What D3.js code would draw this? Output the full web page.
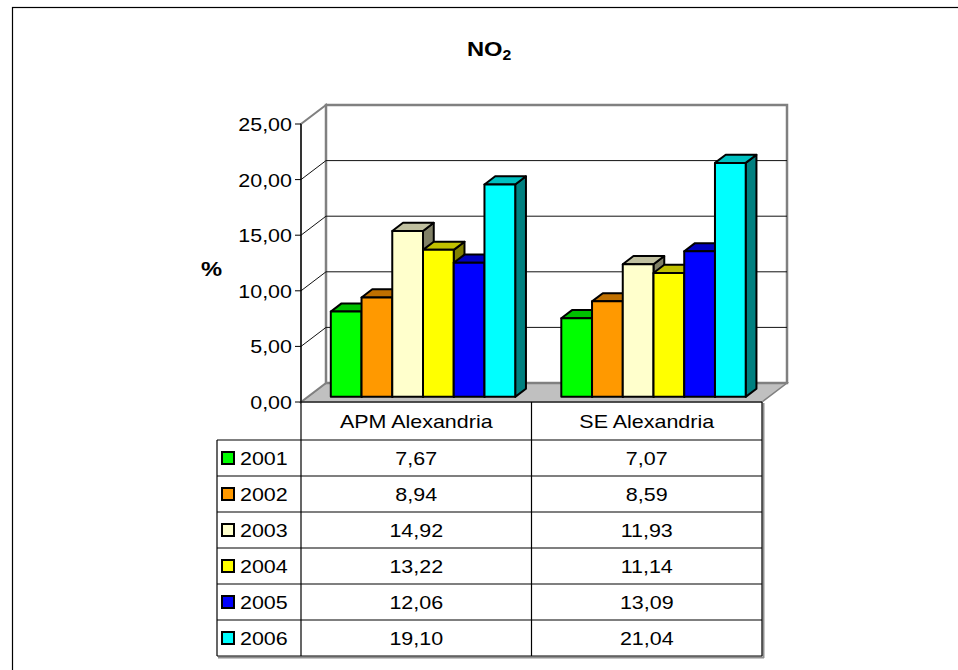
<!DOCTYPE html>
<html>
<head>
<meta charset="utf-8">
<script src="https://cdn.jsdelivr.net/npm/d3@7/dist/d3.min.js"></script>
<style>
  html, body { margin: 0; padding: 0; background: #fff; }
  svg { display: block; }
  text { font-family: Arial, "Liberation Sans", sans-serif; fill: #000; }
</style>
</head>
<body>
<svg id="chart" width="958" height="670"></svg>
<script>
// NO2 share (%) by station and year
const categories = ["APM Alexandria", "SE Alexandria"];
const years = ["2001", "2002", "2003", "2004", "2005", "2006"];
const values2001 = [7.67, 7.07];
const values2002 = [8.94, 8.59];
const values2003 = [14.92, 11.93];
const values2004 = [13.22, 11.14];
const values2005 = [12.06, 13.09];
const values2006 = [19.10, 21.04];
const valueLabels2001 = ["7,67", "7,07"];
const valueLabels2002 = ["8,94", "8,59"];
const valueLabels2003 = ["14,92", "11,93"];
const valueLabels2004 = ["13,22", "11,14"];
const valueLabels2005 = ["12,06", "13,09"];
const valueLabels2006 = ["19,10", "21,04"];
const yTicks = [0, 5, 10, 15, 20, 25];
const yTickLabels = ["0,00", "5,00", "10,00", "15,00", "20,00", "25,00"];

const seriesValues = [values2001, values2002, values2003, values2004, values2005, values2006];
const seriesLabels = [valueLabels2001, valueLabels2002, valueLabels2003, valueLabels2004, valueLabels2005, valueLabels2006];

// face colours: front, top, side
const palette = [
  { front: "#00ff00", top: "#00c000", side: "#008000" },
  { front: "#ff9900", top: "#c07000", side: "#804c00" },
  { front: "#ffffcc", top: "#c0c0a0", side: "#808066" },
  { front: "#ffff00", top: "#c0c000", side: "#808000" },
  { front: "#0000ff", top: "#0000c0", side: "#000080" },
  { front: "#00ffff", top: "#00c0c0", side: "#008080" }
];

const svg = d3.select("#chart");
const FS = 19, SX = 1.13;   // text size and horizontal stretch

function label(g, x, y, str, anchor, opts = {}) {
  const t = g.append("g").attr("transform", `translate(${x},${y}) scale(${opts.sx || SX},1)`)
    .append("text")
    .attr("text-anchor", anchor)
    .attr("font-size", opts.size || FS)
    .attr("font-weight", opts.bold ? "bold" : "normal")
    .text(str);
  return t;
}

// outer frame
svg.append("rect").attr("x", 12.5).attr("y", 7.5).attr("width", 1000).attr("height", 1000)
  .attr("fill", "none").attr("stroke", "#000").attr("stroke-width", 1.2);

// plot geometry (front plane) and depth offsets
const left = 301, right = 762;
const DX = 25, DY = 19;
const y = d3.scaleLinear().domain([0, 25]).range([402, 124]);
const x = d3.scaleBand().domain(categories).range([left, right]).paddingInner(0).paddingOuter(0);
const xs = d3.scaleBand().domain(years).range([0, x.bandwidth()]).paddingInner(0).paddingOuter(0.75);
const d0 = 0.27, d1 = 0.70;

const gWalls = svg.append("g");
const wallStroke = "#808080";

// floor
gWalls.append("polygon")
  .attr("points", [[left, y(0)], [right, y(0)], [right + DX, y(0) - DY], [left + DX, y(0) - DY]].join(" "))
  .attr("fill", "#c0c0c0").attr("stroke", wallStroke).attr("stroke-width", 1.5);
// left wall
gWalls.append("polygon")
  .attr("points", [[left, y(0)], [left, y(25)], [left + DX, y(25) - DY], [left + DX, y(0) - DY]].join(" "))
  .attr("fill", "#fff").attr("stroke", wallStroke).attr("stroke-width", 2);
// back wall
gWalls.append("rect")
  .attr("x", left + DX).attr("y", y(25) - DY)
  .attr("width", right - left).attr("height", y(0) - y(25))
  .attr("fill", "#fff").attr("stroke", wallStroke).attr("stroke-width", 2.5);

// gridlines on back and side walls
const grid = yTicks.filter(v => v > 0 && v < 25);
gWalls.selectAll("line.gb").data(grid).join("line")
  .attr("x1", left + DX).attr("x2", right + DX)
  .attr("y1", v => y(v) - DY).attr("y2", v => y(v) - DY)
  .attr("stroke", "#111").attr("stroke-width", 1);
gWalls.selectAll("line.gs").data(grid).join("line")
  .attr("x1", left).attr("x2", left + DX)
  .attr("y1", v => y(v)).attr("y2", v => y(v) - DY)
  .attr("stroke", "#111").attr("stroke-width", 1);

// bars
const gBars = svg.append("g");
categories.forEach((c, ci) => {
  seriesValues.forEach((vals, si) => {
    const v = vals[ci];
    const col = palette[si];
    const fx = x(c) + xs(years[si]) + d0 * DX;
    const w = xs.bandwidth();
    const ty = y(v) - d0 * DY, by = y(0) - d0 * DY;
    const ddx = (d1 - d0) * DX, ddy = (d1 - d0) * DY;
    const g = gBars.append("g").attr("stroke", "#000").attr("stroke-width", 2).attr("stroke-linejoin", "round");
    g.append("polygon").attr("fill", col.side)
      .attr("points", [[fx + w, ty], [fx + w + ddx, ty - ddy], [fx + w + ddx, by - ddy], [fx + w, by]].join(" "));
    g.append("polygon").attr("fill", col.top)
      .attr("points", [[fx, ty], [fx + w, ty], [fx + w + ddx, ty - ddy], [fx + ddx, ty - ddy]].join(" "));
    g.append("rect").attr("fill", col.front)
      .attr("x", fx).attr("y", ty).attr("width", w).attr("height", by - ty);
  });
});

// value axis
const gAxis = svg.append("g");
gAxis.append("line").attr("x1", left).attr("x2", left).attr("y1", y(25)).attr("y2", 656)
  .attr("stroke", "#000").attr("stroke-width", 1.2);
gAxis.selectAll("line.tick").data(yTicks).join("line")
  .attr("x1", left - 6).attr("x2", left)
  .attr("y1", d => y(d)).attr("y2", d => y(d))
  .attr("stroke", "#000").attr("stroke-width", 1);
yTicks.forEach((v, i) => label(gAxis, left - 9, y(v) + 7, yTickLabels[i], "end"));
// floor front edge
gAxis.append("line").attr("x1", left).attr("x2", right).attr("y1", y(0)).attr("y2", y(0))
  .attr("stroke", "#000").attr("stroke-width", 1.2);

// axis title and chart title
label(svg, 211.5, 276, "%", "middle", { bold: true, size: 21 });
const tg = svg.append("g").attr("transform", `translate(467,56) scale(${SX},1)`);
const tt = tg.append("text").attr("font-size", 21).attr("font-weight", "bold");
tt.append("tspan").text("NO");
tt.append("tspan").attr("font-size", 14).attr("dy", 4).text("2");

// data table
const gTable = svg.append("g");
const tLeft = 217, headTop = 402, headBottom = 440, rowH = 36;
const tBottom = headBottom + rowH * years.length;
const mid = x(categories[1]);
gTable.append("line").attr("x1", tLeft + 1).attr("x2", right + 2).attr("y1", tBottom + 1.5).attr("y2", tBottom + 1.5)
  .attr("stroke", "#909090").attr("stroke-width", 2);
gTable.append("line").attr("x1", right + 1.5).attr("x2", right + 1.5).attr("y1", headTop + 1).attr("y2", tBottom + 2)
  .attr("stroke", "#909090").attr("stroke-width", 2);
const hLines = d3.range(years.length + 1).map(i => headBottom + i * rowH);
gTable.selectAll("line.h").data(hLines).join("line")
  .attr("x1", tLeft).attr("x2", right).attr("y1", d => d).attr("y2", d => d)
  .attr("stroke", "#000").attr("stroke-width", 1.2);
[[tLeft, headBottom], [mid, headTop], [right, headTop]].forEach(([vx, vy]) => {
  gTable.append("line").attr("x1", vx).attr("x2", vx).attr("y1", vy).attr("y2", tBottom)
    .attr("stroke", "#000").attr("stroke-width", 1.2);
});
categories.forEach(c => label(gTable, x(c) + x.bandwidth() / 2, (headTop + headBottom) / 2 + 7, c, "middle"));
years.forEach((yr, si) => {
  const cy = headBottom + si * rowH + rowH / 2;
  gTable.append("rect").attr("x", 222).attr("y", cy - 6).attr("width", 12).attr("height", 12)
    .attr("fill", palette[si].front).attr("stroke", "#000").attr("stroke-width", 2);
  label(gTable, 240, cy + 7, yr, "start");
  categories.forEach((c, ci) => label(gTable, x(c) + x.bandwidth() / 2, cy + 7, seriesLabels[si][ci], "middle"));
});
</script>
</body>
</html>
